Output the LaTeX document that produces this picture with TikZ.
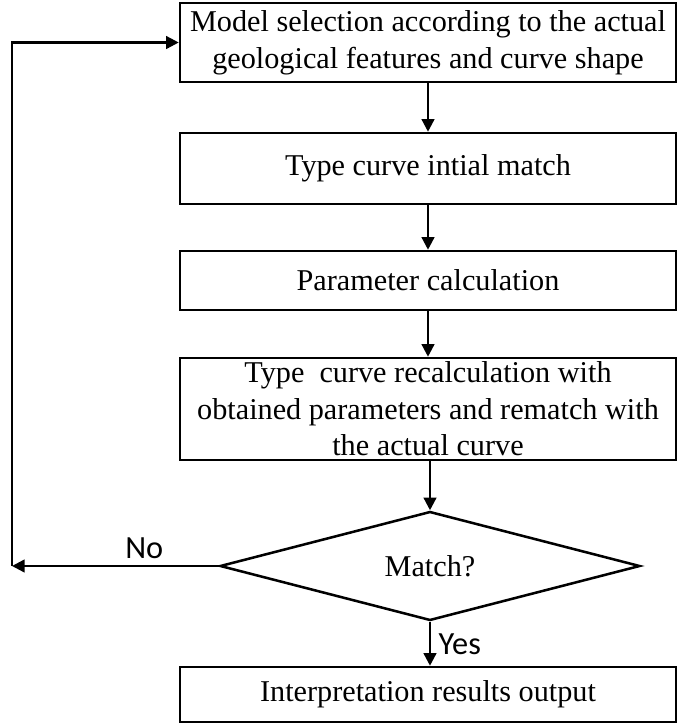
\documentclass[tikz,border=0pt]{standalone}
\usepackage{fontspec}
\setmainfont{Liberation Serif}
\newfontfamily\answerfont{Carlito}
\usetikzlibrary{arrows.meta, shapes.geometric}

\begin{document}
\begin{tikzpicture}[
        procbox/.style={draw, line width=1.8pt, minimum width=12.4cm,
                        align=center, inner sep=0pt,
                        font=\fontsize{21.5}{26}\selectfont},
        decision/.style={diamond, draw, line width=1.8pt, aspect=3.85,
                         minimum width=10.5cm, minimum height=2.725cm,
                         inner sep=0pt, font=\fontsize{21.5}{26}\selectfont},
        answer/.style={font=\answerfont\fontsize{23}{26}\selectfont},
        flow/.style={-{Triangle[length=9pt, width=9pt]}, line width=1.7pt},
    ]
        \useasboundingbox (0,0) rectangle (16.95,-18.125);

        \node[procbox, minimum height=1.975cm] (model) at (10.7,-1.0625)
            {Model selection according to the actual\\geological features and curve shape};
        \node[procbox, minimum height=1.775cm] (initial) at (10.7,-4.2125)
            {Type curve intial match};
        \node[procbox, minimum height=1.475cm] (param) at (10.7,-7.0125)
            {Parameter calculation};
        \node[procbox, minimum height=2.55cm] (rematch) at (10.7,-10.225)
            {Type~ curve recalculation with\\obtained parameters and rematch with\\the actual curve};
        \node[decision] (match) at (10.75,-14.15) {Match?};
        \node[procbox, minimum height=1.375cm] (output) at (10.7,-17.3625)
            {Interpretation results output};

        \coordinate (back) at (0.3,-14.15);

        \draw[flow] (model) -- (initial);
        \draw[flow] (initial) -- (param);
        \draw[flow] (param) -- (rematch);
        \draw[flow] (rematch.south -| match.north) -- (match.north);
        \draw[flow] (match.south) -- node[answer, right, xshift=2pt] {Yes} (output.north -| match.south);
        \draw[flow] (match.west) -- node[answer, pos=0.36, above, yshift=1pt] {No} (back);
        \draw[flow] (back) |- (model.west);
    \end{tikzpicture}
\end{document}
